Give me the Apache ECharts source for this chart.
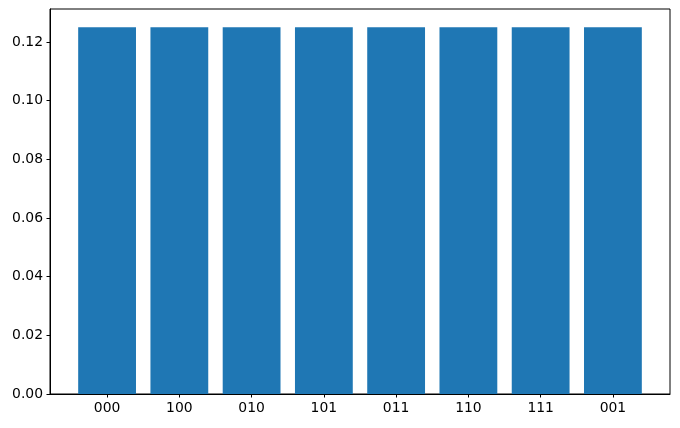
<!DOCTYPE html>
<html>
<head>
<meta charset="utf-8">
<script src="https://cdn.jsdelivr.net/npm/echarts@6/dist/echarts.min.js"></script>
<style>
html,body{margin:0;padding:0;background:#fff;}
#chart{width:680px;height:428px;}
</style>
</head>
<body>
<div id="chart"></div>
<script>
var categories = ['000', '100', '010', '101', '011', '110', '111', '001'];
var probabilities = [0.125, 0.125, 0.125, 0.125, 0.125, 0.125, 0.125, 0.125];
var yTicks = [0, 0.02, 0.04, 0.06, 0.08, 0.10, 0.12];

var xPositions = categories.map(function (c, i) { return i; });
var barData = categories.map(function (c, i) { return [i, probabilities[i]]; });

var font = { fontFamily: 'DejaVu Sans', fontSize: 13.9, color: '#000' };
var chart = echarts.init(document.getElementById('chart'), null, { renderer: 'canvas' });
chart.setOption({
  animation: false,
  backgroundColor: '#fff',
  grid: {
    left: 50, right: 10, top: 9, bottom: 34,
    show: true, borderColor: '#000', borderWidth: 1, backgroundColor: 'transparent',
    containLabel: false
  },
  xAxis: {
    type: 'value',
    min: -0.79, max: 7.79,
    axisLine: { show: true, onZero: false, lineStyle: { color: '#000', width: 1 } },
    axisTick: { show: true, length: 3.5, lineStyle: { color: '#000', width: 1 }, customValues: xPositions },
    axisLabel: Object.assign({
      margin: 7,
      customValues: xPositions,
      formatter: function (v) { return categories[Math.round(v)]; }
    }, font),
    splitLine: { show: false }
  },
  yAxis: {
    type: 'value',
    min: 0, max: 0.13125,
    axisLine: { show: true, onZero: false, lineStyle: { color: '#000', width: 1 } },
    axisTick: { show: true, length: 3.5, lineStyle: { color: '#000', width: 1 }, customValues: yTicks },
    axisLabel: Object.assign({
      margin: 7,
      customValues: yTicks,
      formatter: function (v) { return v.toFixed(2); }
    }, font),
    splitLine: { show: false }
  },
  series: [{
    type: 'bar',
    data: barData,
    barWidth: '80%',
    itemStyle: { color: '#1f77b4' }
  }]
});
</script>
</body>
</html>
